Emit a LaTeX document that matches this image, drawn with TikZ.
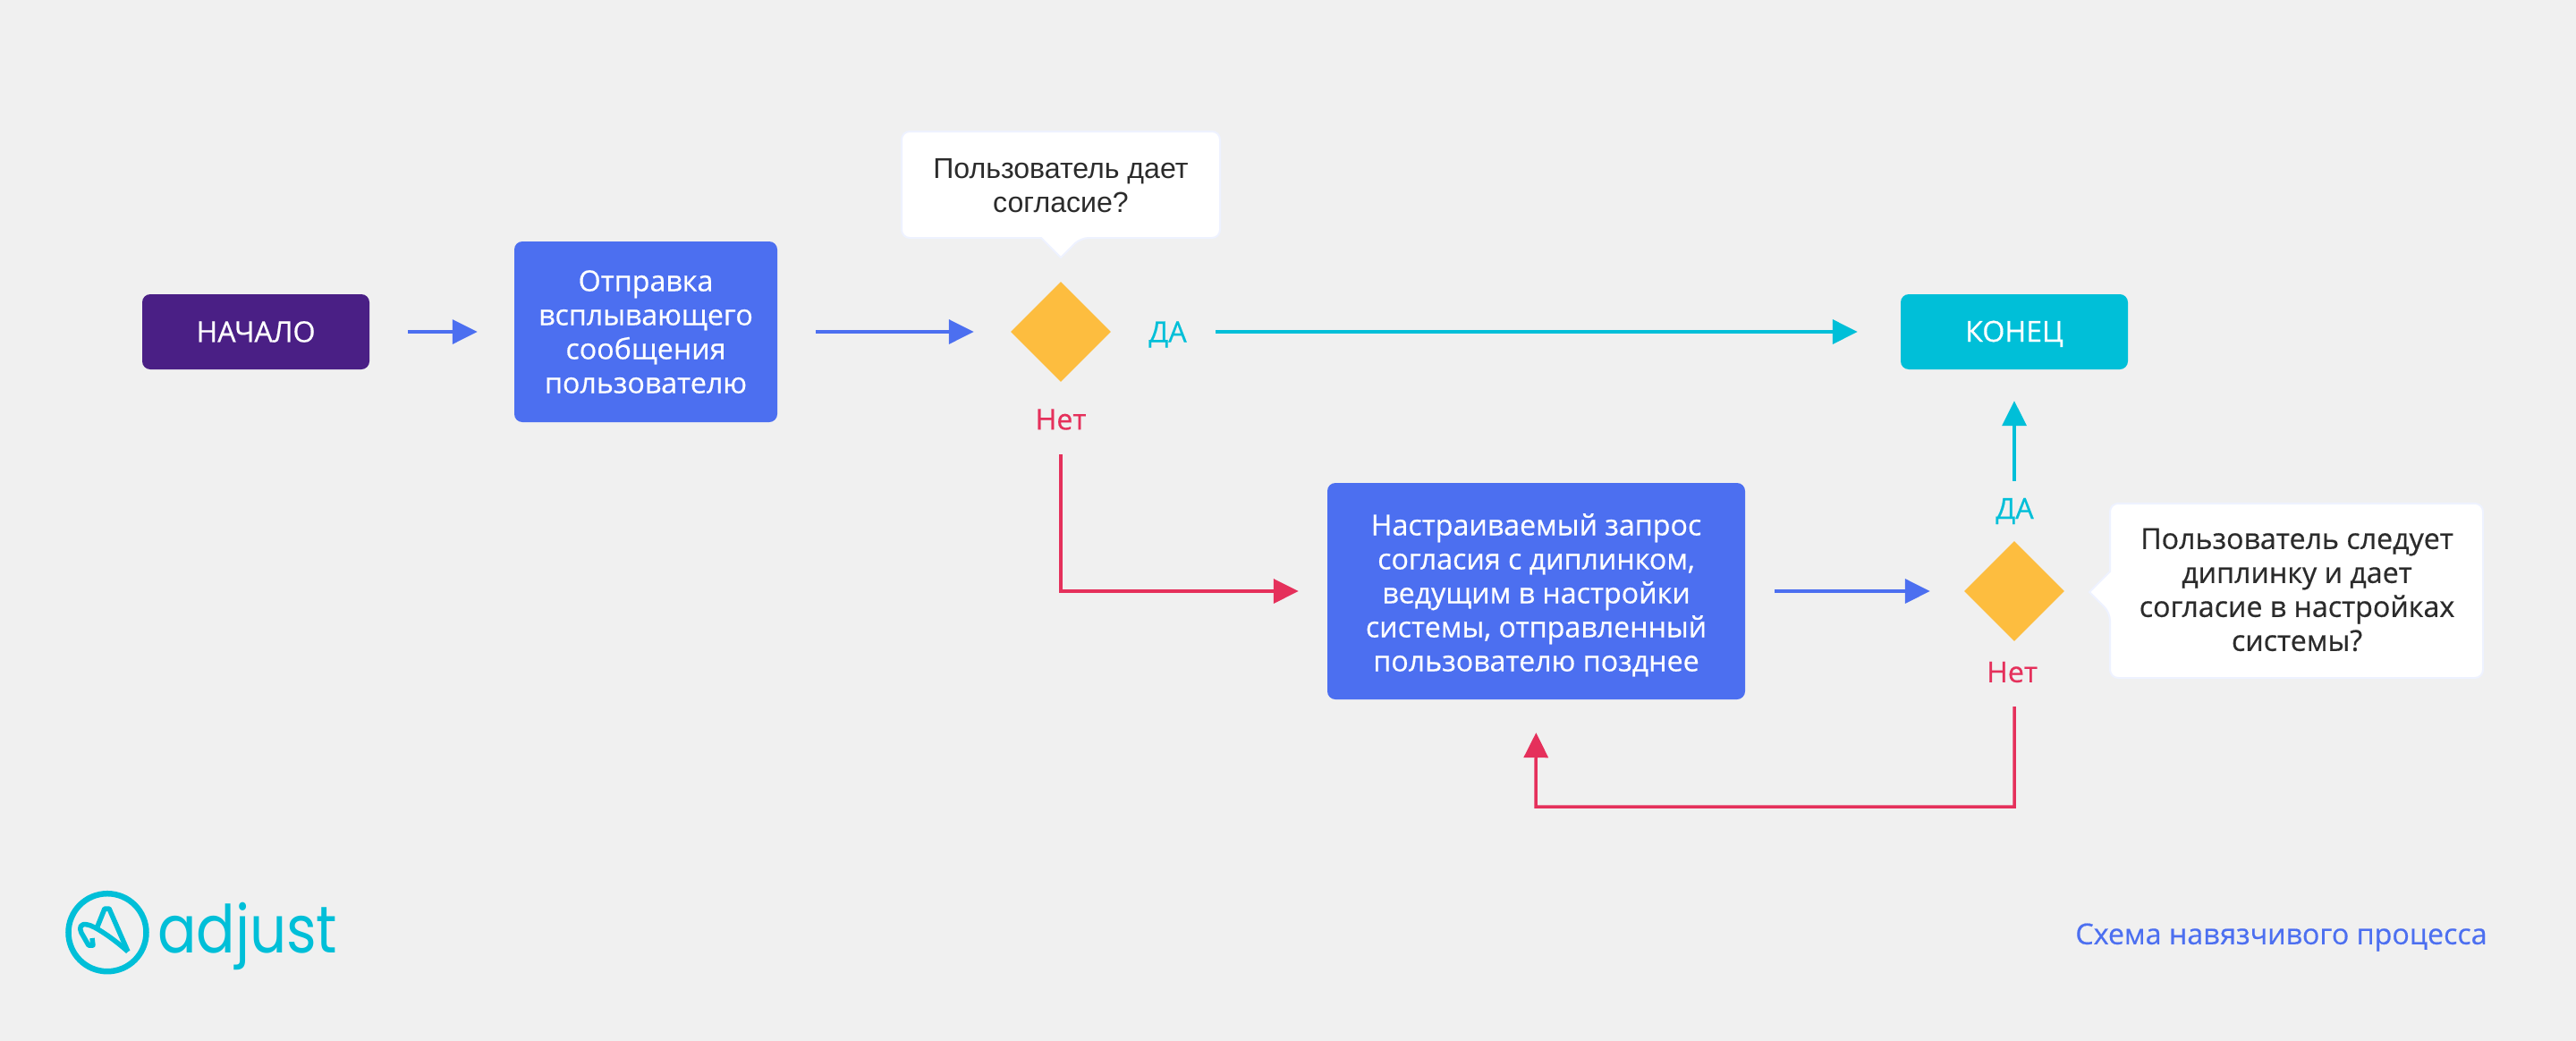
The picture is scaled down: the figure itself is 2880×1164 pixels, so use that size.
\documentclass[tikz,border=0pt]{standalone}
\usepackage{fontspec}
\setmainfont{Open Sans}[RawFeature={embolden=0.5}]
\newfontfamily\calloutfont{Liberation Sans}
\newfontfamily\logofont{Poppins}
\usetikzlibrary{arrows.meta,shapes.geometric}
\definecolor{bgc}{HTML}{F0F0F0}
\definecolor{bluec}{HTML}{4C6FF0}
\definecolor{purplec}{HTML}{4A1F85}
\definecolor{cyanc}{HTML}{00BFD8}
\definecolor{orangec}{HTML}{FDBD3F}
\definecolor{redc}{HTML}{E5305B}
\definecolor{paleline}{HTML}{EEF2FF}
\definecolor{darktext}{HTML}{2B2B2B}
\tikzset{
  boxbase/.style={rectangle,rounded corners=9pt,inner sep=0pt,text=white,align=center,font=\fontsize{32.2}{38}\selectfont},
  decision/.style={diamond,aspect=1,fill=orangec,minimum width=112pt,minimum height=112pt,inner sep=0pt},
  lbl/.style={inner sep=0pt,font=\fontsize{32.2}{38}\selectfont},
  conn/.style={line width=3.5pt,-{Triangle[length=28pt,width=27pt]}},
  calloutshape/.style={fill=white,draw=paleline,line width=2pt},
  callouttext/.style={inner sep=0pt,align=center,text=darktext,font=\fontsize{32.2}{38}\selectfont},
  logoline/.style={draw=cyanc,line width=5.5pt}
}
\begin{document}
\begin{tikzpicture}[x=1pt,y=-1pt]
\useasboundingbox[fill=bgc] (0,0) rectangle (2880,1164);

% boxes
\node[boxbase,fill=purplec,minimum width=254pt,minimum height=84pt] (start) at (286,371) {НАЧАЛО};
\node[boxbase,fill=bluec,minimum width=294pt,minimum height=202pt] (send) at (722,371) {Отправка\\всплывающего\\сообщения\\пользователю};
\node[boxbase,fill=cyanc,minimum width=254pt,minimum height=84pt] (end) at (2252,371) {\rule{0pt}{28pt}КОНЕЦ};
\node[boxbase,fill=bluec,minimum width=467pt,minimum height=242pt] (big) at (1717.5,661) {\rule{0pt}{33pt}Настраиваемый запрос\\согласия с диплинком,\\ведущим в настройки\\системы, отправленный\\пользователю позднее};

% decisions
\node[decision] (d1) at (1186,371) {};
\node[decision] (d2) at (2252,661) {};

% callouts
\draw[calloutshape,rounded corners=9pt] (1008,147) -- (1364,147) -- (1364,266) -- (1208,266) [sharp corners] -- (1186,288) -- (1164,266) [rounded corners=9pt] -- (1008,266) -- cycle;
\node[callouttext,font=\calloutfont\fontsize{32.1}{38}\selectfont] (q1) at (1186,208) {Пользователь дает\\согласие?};
\draw[calloutshape,rounded corners=9pt] (2359,563) -- (2776,563) -- (2776,758) -- (2359,758) -- (2359,685) [sharp corners] -- (2336,662) -- (2359,639) [rounded corners=9pt] -- cycle;
\node[callouttext] (q2) at (2568,659.5) {Пользователь следует\\диплинку и дает\\согласие в настройках\\системы?};

% labels
\node[lbl,text=cyanc] (yes1) at (1305.5,374) {ДА};
\node[lbl,text=redc] (no1) at (1186,469) {Нет};
\node[lbl,text=cyanc] (yes2) at (2252.5,571.5) {ДА};
\node[lbl,text=redc] (no2) at (2249.5,751.5) {Нет};

% connectors
\draw[conn,bluec,shorten <=43pt,shorten >=41pt] (start.east) -- (send.west);
\draw[conn,bluec,shorten <=43pt,shorten >=41pt] (send.east) -- (d1.west);
\draw[conn,cyanc,shorten <=117pt,shorten >=48pt] (d1.east) -- (end.west);
\draw[conn,redc,shorten <=81pt,shorten >=32pt] (d1.south) |- (big.west);
\draw[conn,bluec,shorten <=33pt,shorten >=38pt] (big.east) -- (d2.west);
\draw[conn,cyanc,shorten <=67pt,shorten >=35pt] (d2.north) -- (end.south);
\draw[conn,redc,shorten <=73pt,shorten >=37pt] (d2.south) |- ++(-535,185) -- (big.south);

% footer
\node[inner sep=0pt,text=bluec,font=\fontsize{32.2}{38}\selectfont] (caption) at (2550.5,1048) {Схема навязчивого процесса};

% logo
\node[circle,draw=cyanc,line width=6.5pt,minimum size=87pt,inner sep=0pt] (logoring) at (120,1042.7) {};
\draw[logoline,line join=round] (143,1064) -- (122,1016) -- (117,1016) -- (109,1036);
\draw[logoline,line join=round] (143,1064) .. controls (125,1048) and (105,1035) .. (98,1034) .. controls (90,1032) and (88,1037) .. (91,1043) -- (99,1057) -- (104,1057) -- (103,1049);
\node[inner sep=0pt,anchor=base west,text=cyanc,font=\logofont\fontsize{74}{76}\selectfont,xscale=0.87] (logotext) at (176,1065) {adjust};
\end{tikzpicture}
\end{document}
